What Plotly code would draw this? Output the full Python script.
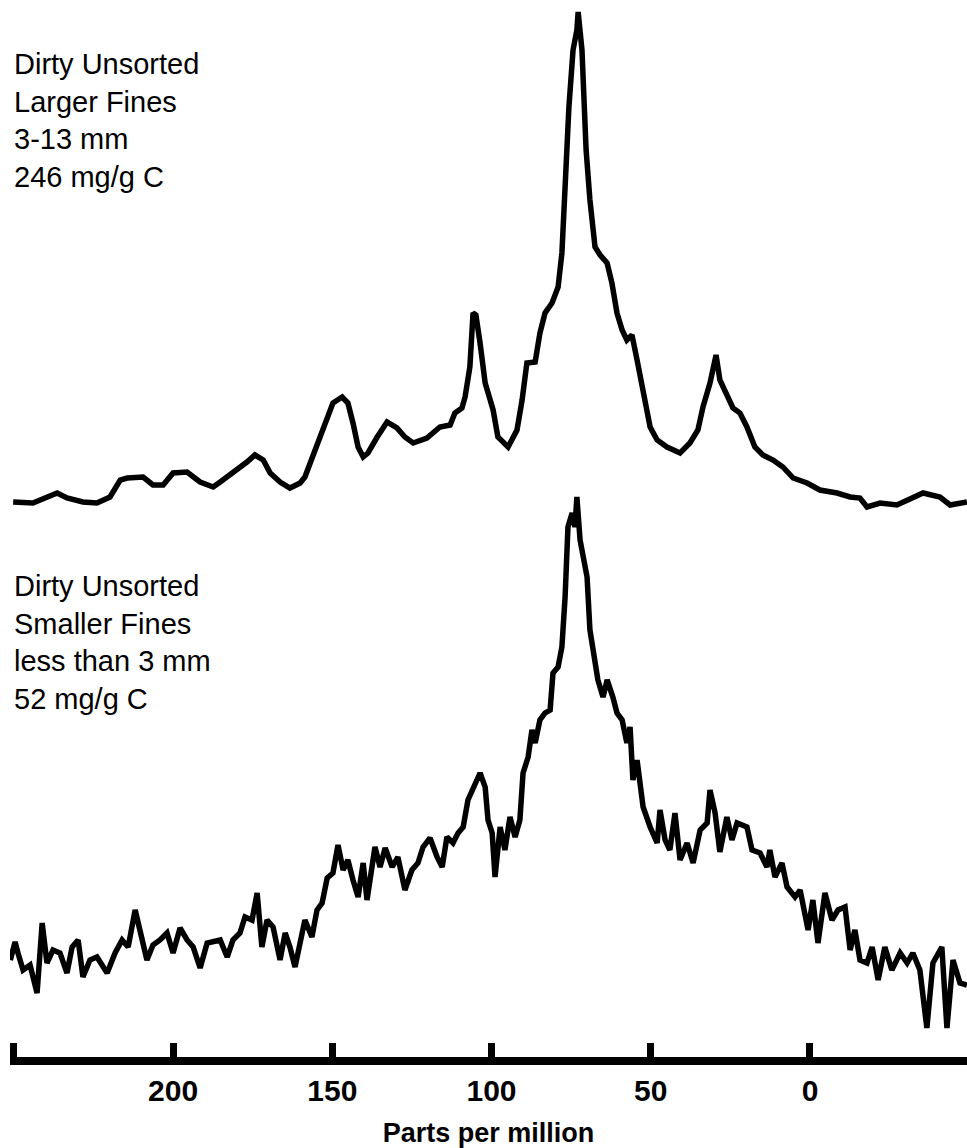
import plotly.graph_objects as go

# ---- data (chemical shift in ppm, relative intensity in arbitrary units) ----
ppm_large = [250.2, 244.0, 236.4, 233.3, 228.3, 223.9, 219.8, 216.6, 214.4, 209.4,
             206.3, 203.1, 200.0, 195.6, 191.5, 187.4, 185.2, 181.2, 176.8, 174.3,
             171.7, 169.5, 166.4, 163.3, 160.1, 158.6, 156.4, 153.8, 151.3, 149.8,
             146.9, 145.1, 143.5, 141.9, 140.3, 138.8, 135.9, 132.8, 129.7, 127.2,
             124.6, 120.3, 116.2, 113.0, 111.5, 109.3, 108.3, 106.8, 105.8, 104.9,
             103.6, 102.0, 99.5, 98.0, 94.8, 92.0, 90.4, 88.9, 86.3, 84.8,
             83.2, 81.0, 79.1, 77.9, 76.6, 75.7, 74.4, 73.2, 72.8, 71.6,
             70.3, 69.1, 67.5, 65.9, 63.7, 62.2, 60.6, 59.0, 57.5, 55.9,
             54.3, 52.4, 50.2, 48.0, 44.9, 40.8, 37.7, 35.2, 33.6, 31.4,
             29.5, 28.3, 25.7, 24.2, 22.0, 19.8, 17.3, 14.8, 11.6, 8.5,
             5.3, 0.9, -3.1, -8.5, -12.6, -15.7, -17.9, -22.0, -27.3, -32.3,
             -35.5, -40.8, -44.0, -49.3]
int_large = [1, 0, 10, 5, 1, 0, 6, 23, 25, 26,
             18, 18, 30, 31, 21, 16, 21, 30, 41, 48,
             43, 30, 21, 15, 20, 26, 45, 66, 88, 100,
             106, 100, 80, 56, 46, 50, 66, 81, 75, 66,
             60, 65, 76, 78, 90, 95, 106, 136, 190, 188,
             160, 120, 93, 66, 56, 73, 103, 140, 141, 170,
             190, 200, 216, 250, 336, 396, 453, 473, 491, 453,
             353, 303, 256, 248, 240, 220, 190, 173, 163, 168,
             143, 110, 76, 63, 56, 50, 60, 73, 96, 120,
             148, 123, 106, 95, 90, 76, 56, 48, 43, 36,
             25, 20, 13, 10, 6, 5, -4, 0, -2, 5,
             10, 6, -2, 1]

ppm_small = [251.1, 249.6, 248.7, 247.1, 244.9, 242.7, 241.1, 239.6, 237.7, 235.5,
             233.3, 231.7, 229.8, 228.3, 226.1, 223.9, 220.7, 218.2, 216.0, 214.1,
             211.9, 210.4, 208.2, 206.3, 204.1, 201.9, 200.0, 197.8, 195.6, 193.7,
             191.5, 189.3, 187.4, 185.2, 183.0, 181.2, 179.0, 177.4, 175.2, 173.6,
             172.1, 170.5, 168.6, 166.4, 164.8, 163.3, 161.7, 160.1, 158.6, 156.4,
             154.8, 153.2, 151.6, 149.8, 148.2, 146.6, 145.1, 143.5, 141.9, 140.3,
             139.1, 136.6, 135.0, 133.4, 131.2, 129.4, 127.2, 125.0, 123.1, 121.5,
             119.3, 117.1, 115.5, 114.0, 112.1, 110.5, 108.9, 107.4, 105.8, 104.2,
             103.6, 102.0, 101.1, 99.8, 98.9, 97.3, 95.8, 94.2, 92.6, 91.1,
             90.1, 88.5, 87.3, 86.3, 84.8, 83.2, 81.6, 80.7, 79.1, 77.9,
             76.9, 76.0, 74.7, 73.8, 73.2, 72.2, 71.3, 70.0, 69.1, 67.5,
             66.6, 65.0, 63.7, 61.9, 60.6, 59.0, 57.5, 56.5, 55.6, 54.3,
             52.4, 50.2, 48.0, 47.1, 45.5, 44.0, 42.4, 40.8, 38.6, 36.7,
             34.5, 32.3, 31.4, 29.8, 28.3, 26.1, 24.5, 22.9, 19.8, 18.2,
             15.7, 13.5, 12.6, 11.0, 8.8, 7.2, 4.7, 3.1, 0.6, -0.9,
             -2.5, -4.7, -6.9, -8.8, -11.0, -12.6, -14.1, -15.7, -17.9, -19.5,
             -21.4, -23.5, -25.7, -28.3, -30.5, -32.3, -34.5, -36.7, -38.6, -41.4,
             -43.0, -44.9, -47.1, -49.3]
int_small = [80, 98, 87, 70, 75, 47, 117, 77, 90, 87,
             67, 93, 100, 63, 80, 83, 67, 87, 100, 93,
             130, 107, 80, 95, 100, 107, 87, 112, 100, 93,
             72, 97, 98, 100, 83, 100, 107, 123, 120, 147,
             93, 120, 113, 80, 107, 93, 73, 97, 120, 103,
             130, 137, 162, 167, 195, 170, 180, 160, 143, 177,
             140, 193, 173, 192, 173, 183, 150, 170, 177, 193,
             202, 183, 173, 203, 197, 207, 213, 240, 252, 263,
             267, 253, 220, 207, 163, 213, 190, 223, 203, 220,
             267, 283, 310, 297, 320, 327, 330, 367, 373, 393,
             443, 513, 527, 513, 543, 500, 483, 463, 410, 373,
             360, 343, 360, 343, 327, 320, 297, 313, 260, 280,
             233, 213, 197, 230, 200, 190, 227, 180, 197, 177,
             210, 217, 250, 227, 188, 223, 200, 217, 213, 190,
             187, 173, 190, 163, 177, 153, 143, 150, 110, 140,
             97, 147, 120, 130, 133, 90, 110, 80, 77, 93,
             60, 93, 70, 87, 77, 87, 70, 12, 77, 93,
             12, 80, 57, 55]

labels_large = ["Dirty Unsorted", "Larger Fines", "3-13 mm", "246 mg/g C"]
labels_small = ["Dirty Unsorted", "Smaller Fines", "less than 3 mm", "52 mg/g C"]

tick_vals = [250, 200, 150, 100, 50, 0, -50]
tick_text = ["", "200", "150", "100", "50", "0", ""]

# vertical stacking offsets (display only)
offset_large = 554
offset_small = 17

FONT = "Liberation Sans, Arial, sans-serif"

fig = go.Figure()
fig.add_trace(go.Scatter(x=ppm_large, y=[v + offset_large for v in int_large],
                         mode="lines", line=dict(color="black", width=5.5),
                         showlegend=False, hoverinfo="skip"))
fig.add_trace(go.Scatter(x=ppm_small, y=[v + offset_small for v in int_small],
                         mode="lines", line=dict(color="black", width=5.5),
                         showlegend=False, hoverinfo="skip"))

fig.add_annotation(xref="paper", yref="paper", x=0.002, y=1 - 46 / 1057,
                   xanchor="left", yanchor="top", align="left", showarrow=False,
                   text="<br>".join(labels_large),
                   font=dict(family=FONT, size=29, color="black"))
fig.add_annotation(xref="paper", yref="paper", x=0.002, y=1 - 568 / 1057,
                   xanchor="left", yanchor="top", align="left", showarrow=False,
                   text="<br>".join(labels_small),
                   font=dict(family=FONT, size=29, color="black"))

fig.update_layout(
    width=967, height=1148,
    margin=dict(l=10, r=0, t=0, b=91),
    paper_bgcolor="white", plot_bgcolor="white",
    xaxis=dict(range=[251.2, -49.3], showline=True, linewidth=8, linecolor="black",
               ticks="inside", ticklen=14, tickwidth=7, tickcolor="black",
               tickvals=tick_vals, ticktext=tick_text,
               tickfont=dict(family=FONT, size=30, color="black", weight="bold"),
               showgrid=False, zeroline=False, fixedrange=True,
               title=dict(text="<b>Parts per million</b>", standoff=20,
                          font=dict(family=FONT, size=27, color="black"))),
    yaxis=dict(visible=False, range=[0, 1057], fixedrange=True),
)

fig.write_html("out.html",
               config={"displayModeBar": False, "staticPlot": True},
               post_script="document.body.style.margin='0px';"
                           "document.body.style.overflow='hidden';")
